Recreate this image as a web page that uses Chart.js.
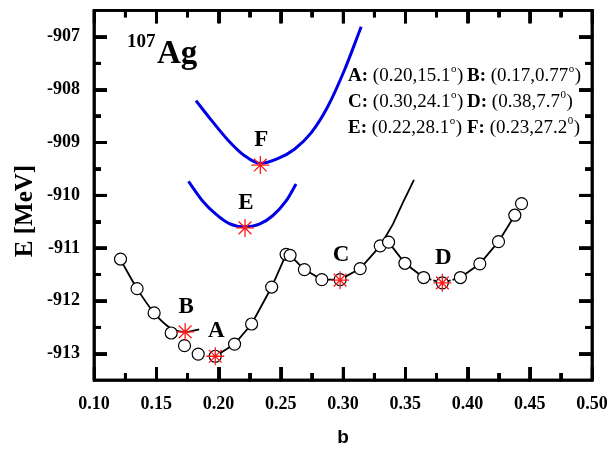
<!DOCTYPE html>
<html>
<head>
<meta charset="utf-8">
<script src="https://cdn.jsdelivr.net/npm/chart.js@4.4.1/dist/chart.umd.min.js"></script>
<style>
  html, body { margin: 0; padding: 0; background: #fff; }
  #wrap { position: relative; width: 611px; height: 455px; }
  #energyChart, #tickLayer { position: absolute; left: 0; top: 0; }
  #tickLayer { pointer-events: none; }
</style>
</head>
<body>
<div id="wrap">
  <canvas id="energyChart" width="611" height="455"></canvas>
  <canvas id="tickLayer" width="611" height="455"></canvas>
</div>
<script>
// ---- axis ticks ----
const xTicks = [0.10, 0.15, 0.20, 0.25, 0.30, 0.35, 0.40, 0.45, 0.50];
const xMinor = [0.125, 0.175, 0.225, 0.275, 0.325, 0.375, 0.425, 0.475];
const yTicks = [-913, -912, -911, -910, -909, -908, -907];
const yMinor = [-912.5, -911.5, -910.5, -909.5, -908.5, -907.5];

// ---- open circles (constrained energies) ----
const circleB = [0.1213, 0.1346, 0.1483, 0.1620, 0.1727, 0.1837, 0.1974, 0.2129, 0.2266, 0.2427, 0.2543, 0.2575, 0.2690,
                 0.2830, 0.2977, 0.3138, 0.3299, 0.3366, 0.3497, 0.3648, 0.3798, 0.3943, 0.4099, 0.4249, 0.4380, 0.4434];
const circleE = [-911.21, -911.77, -912.23, -912.61, -912.85, -913.01, -913.05, -912.82, -912.44, -911.74, -911.12, -911.14, -911.41,
                 -911.60, -911.60, -911.39, -910.96, -910.89, -911.29, -911.56, -911.66, -911.56, -911.30, -910.88, -910.38, -910.16];

// ---- black curves ----
const bBranchB = [0.1213, 0.1346, 0.1483, 0.1604, 0.1732, 0.1845];
const bBranchE = [-911.22, -911.77, -912.23, -912.50, -912.59, -912.54];

const acBranchB = [0.1974, 0.2129, 0.2266, 0.2427, 0.2543, 0.2575, 0.2690, 0.2830, 0.2977, 0.3138, 0.3299, 0.3401, 0.3481, 0.3570];
const acBranchE = [-913.05, -912.82, -912.44, -911.74, -911.12, -911.14, -911.41, -911.60, -911.60, -911.39, -910.96, -910.55, -910.14, -909.71];

const dBranchB = [0.3366, 0.3497, 0.3648, 0.3798, 0.3943, 0.4099, 0.4249, 0.4380];
const dBranchE = [-910.89, -911.29, -911.56, -911.66, -911.56, -911.30, -910.88, -910.38];

// ---- blue curves ----
const fCurveB = [0.1819, 0.1939, 0.2073, 0.2207, 0.2336, 0.2475, 0.2610, 0.2744, 0.2878, 0.3012, 0.3146];
const fCurveE = [-908.21, -908.57, -908.95, -909.25, -909.40, -909.31, -909.13, -908.82, -908.32, -907.63, -906.81];

const eCurveB = [0.1759, 0.1872, 0.1979, 0.2087, 0.2207, 0.2328, 0.2435, 0.2543, 0.2623];
const eCurveE = [-909.74, -910.11, -910.36, -910.54, -910.60, -910.55, -910.39, -910.11, -909.79];

// ---- minima (red stars) ----
const starNames = ['A', 'B', 'C', 'D', 'E', 'F'];
const starB = [0.1974, 0.1732, 0.2977, 0.3798, 0.2213, 0.2336];
const starE = [-913.05, -912.59, -911.61, -911.66, -910.62, -909.43];

// ---- (beta, gamma) table ----
const infoBeta  = ['0.20', '0.17', '0.30', '0.38', '0.22', '0.23'];
const infoGamma = ['15.1', '0.77', '24.1', '7.7', '28.1', '27.2'];
const infoSup   = ['o', 'o', 'o', '0', 'o', '0'];

const SERIF = '"Liberation Serif", "Times New Roman", serif';
const pts = (xs, ys) => xs.map((v, i) => ({ x: v, y: ys[i] }));

// draws frame + inward ticks on a separate canvas laid over the chart
function drawTickLayer(chart) {
  const layer = document.getElementById('tickLayer');
  const c = layer.getContext('2d');
  const a = chart.chartArea;
  const sx = chart.scales.x, sy = chart.scales.y;
  c.clearRect(0, 0, layer.width, layer.height);
  c.fillStyle = '#000';
  const vt = (v, len) => {
    const px = Math.round(sx.getPixelForValue(v));
    c.fillRect(px - 1, a.bottom - len, 3, len);
    c.fillRect(px - 1, a.top, 3, len);
  };
  const ht = (v, len) => {
    const py = Math.round(sy.getPixelForValue(v));
    c.fillRect(a.left, py - 1, len, 3);
    c.fillRect(a.right - len, py - 1, len, 3);
  };
  xTicks.forEach(v => vt(v, 13));
  xMinor.forEach(v => vt(v, 7));
  yTicks.forEach(v => ht(v, 13));
  yMinor.forEach(v => ht(v, 7));
  c.lineWidth = 2.5;
  c.strokeStyle = '#000';
  c.strokeRect(a.left, a.top, a.right - a.left, a.bottom - a.top);
}

// frame and annotation texts
const framePlugin = {
  id: 'frame',
  afterRender(chart) { drawTickLayer(chart); },
  afterDraw(chart) {
    const ctx = chart.ctx;
    const a = chart.chartArea;
    const sx = chart.scales.x, sy = chart.scales.y;
    ctx.save();
    ctx.fillStyle = '#000';
    ctx.strokeStyle = '#000';

    xTicks.forEach(v => {
      const px = sx.getPixelForValue(v);
      ctx.fillRect(px - 1.25, a.bottom - 13, 2.5, 13);
      ctx.fillRect(px - 1.25, a.top, 2.5, 13);
    });
    xMinor.forEach(v => {
      const px = sx.getPixelForValue(v);
      ctx.fillRect(px - 1.25, a.bottom - 7, 2.5, 7);
      ctx.fillRect(px - 1.25, a.top, 2.5, 7);
    });
    yTicks.forEach(v => {
      const py = sy.getPixelForValue(v);
      ctx.fillRect(a.left, py - 1.25, 13, 2.5);
      ctx.fillRect(a.right - 13, py - 1.25, 13, 2.5);
    });
    yMinor.forEach(v => {
      const py = sy.getPixelForValue(v);
      ctx.fillRect(a.left, py - 1.25, 7, 2.5);
      ctx.fillRect(a.right - 7, py - 1.25, 7, 2.5);
    });

    ctx.lineWidth = 2.5;
    ctx.strokeRect(a.left, a.top, a.right - a.left, a.bottom - a.top);

    // y axis title
    ctx.save();
    ctx.translate(26, 211);
    ctx.rotate(-Math.PI / 2);
    ctx.font = 'bold 25px ' + SERIF;
    ctx.textAlign = 'center';
    ctx.textBaseline = 'middle';
    ctx.fillText('E [MeV]', 0, 0);
    ctx.restore();

    // point letters
    ctx.font = 'bold 23px ' + SERIF;
    ctx.textAlign = 'center';
    ctx.textBaseline = 'middle';
    starNames.forEach((n, i) => {
      ctx.fillText(n, sx.getPixelForValue(starB[i]) + 1, sy.getPixelForValue(starE[i]) - 25);
    });

    // nucleus label
    ctx.textAlign = 'left';
    ctx.textBaseline = 'alphabetic';
    ctx.font = 'bold 19px ' + SERIF;
    ctx.fillText('107', 127, 47);
    ctx.font = 'bold 33px ' + SERIF;
    ctx.fillText('Ag', 157, 63);

    // table of deformations
    const cols = [348, 467];
    const rows = [81, 107, 133];
    starNames.forEach((n, i) => {
      let cx = cols[i % 2];
      const by = rows[Math.floor(i / 2)];
      ctx.font = 'bold 19px ' + SERIF;
      ctx.fillText(n + ':', cx, by);
      cx += ctx.measureText(n + ':').width;
      ctx.font = '19px ' + SERIF;
      const body = ' (' + infoBeta[i] + ',' + infoGamma[i];
      ctx.fillText(body, cx, by);
      cx += ctx.measureText(body).width;
      ctx.font = '11px ' + SERIF;
      ctx.fillText(infoSup[i], cx + 0.5, by - 9);
      cx += ctx.measureText(infoSup[i]).width + 1;
      ctx.font = '19px ' + SERIF;
      ctx.fillText(')', cx, by);
    });
    ctx.restore();
  }
};

const lineSet = (data, color, width) => ({
  data, showLine: true, borderColor: color, borderWidth: width,
  pointRadius: 0, pointHoverRadius: 0, fill: false
});

const noPad = s => { s.paddingTop = 0; s.paddingBottom = 0; s.paddingLeft = 0; s.paddingRight = 0; };

// inward tick marks drawn by the scales themselves (negative tick length)
const tickGrid = len => ({
  display: true, drawOnChartArea: false, drawTicks: true,
  tickLength: -len, tickWidth: 2.5, tickColor: '#000'
});
const frameBorder = { display: true, color: '#000', width: 2.5 };

// helper for the extra unlabeled scales (top, right and minor ticks)
const bareScale = (axis, position, values, len, size, weight) => ({
  type: 'linear', axis, position, weight,
  min: axis === 'x' ? 0.10 : -913.5,
  max: axis === 'x' ? 0.50 : -906.5,
  afterBuildTicks: s => { s.ticks = values.map(v => ({ value: v })); },
  afterFit: s => {
    if (axis === 'x') s.height = size; else s.width = size;
    noPad(s);
  },
  grid: tickGrid(len),
  border: frameBorder,
  ticks: { display: false }
});

const chart = new Chart(document.getElementById('energyChart'), {
  type: 'scatter',
  data: {
    datasets: [
      {
        data: pts(starB, starE), pointStyle: 'star', pointRadius: 9,
        borderColor: '#ff1a1a', borderWidth: 1.3, backgroundColor: '#ff1a1a', showLine: false
      },
      {
        data: pts(circleB, circleE), pointStyle: 'circle', pointRadius: 6,
        borderColor: '#000', borderWidth: 1.2, backgroundColor: '#fff', showLine: false
      },
      Object.assign(lineSet(pts(bBranchB, bBranchE), '#000', 1.8), { cubicInterpolationMode: 'monotone' }),
      Object.assign(lineSet(pts(acBranchB, acBranchE), '#000', 1.8), { tension: 0 }),
      Object.assign(lineSet(pts(dBranchB, dBranchE), '#000', 1.8), {
        segment: { borderDash: c => (c.p0DataIndex === 2 || c.p0DataIndex === 3) ? [3, 2] : undefined }
      }),
      Object.assign(lineSet(pts(fCurveB, fCurveE), '#0000e6', 3), { cubicInterpolationMode: 'monotone' }),
      Object.assign(lineSet(pts(eCurveB, eCurveE), '#0000e6', 3), { cubicInterpolationMode: 'monotone' })
    ]
  },
  options: {
    responsive: false,
    animation: false,
    layout: { padding: 0 },
    plugins: { legend: { display: false }, tooltip: { enabled: false } },
    scales: {
      x: {
        type: 'linear', position: 'bottom', weight: 1, min: 0.10, max: 0.50,
        afterBuildTicks: s => { s.ticks = xTicks.map(v => ({ value: v })); },
        afterFit: s => { s.height = 75; noPad(s); },
        grid: tickGrid(13),
        border: frameBorder,
        ticks: {
          color: '#000', padding: 27, maxRotation: 0, autoSkip: false,
          font: { family: SERIF, size: 18, weight: 'bold' },
          callback: v => v.toFixed(2)
        },
        title: {
          display: true, text: 'b', color: '#000',
          font: { family: '"Liberation Sans", Arial, sans-serif', size: 19, weight: 'bold' },
          padding: { top: 0, bottom: 6 }
        }
      },
      y: {
        type: 'linear', position: 'left', weight: 1, min: -913.5, max: -906.5,
        afterBuildTicks: s => { s.ticks = yTicks.map(v => ({ value: v })); },
        afterFit: s => { s.width = 94; noPad(s); },
        grid: tickGrid(13),
        border: frameBorder,
        ticks: {
          color: '#000', padding: 27, autoSkip: false,
          font: { family: SERIF, size: 18, weight: 'bold' },
          callback: v => String(v)
        }
      },
      xMinorBottom: bareScale('x', 'bottom', xMinor, 7, 0, 0),
      xTop:         bareScale('x', 'top', xTicks, 13, 8, 1),
      xMinorTop:    bareScale('x', 'top', xMinor, 7, 0, 0),
      yMinorLeft:   bareScale('y', 'left', yMinor, 7, 0, 0),
      yRight:       bareScale('y', 'right', yTicks, 13, 19, 1),
      yMinorRight:  bareScale('y', 'right', yMinor, 7, 0, 0)
    }
  },
  plugins: [framePlugin]
});
drawTickLayer(chart);
</script>
</body>
</html>
